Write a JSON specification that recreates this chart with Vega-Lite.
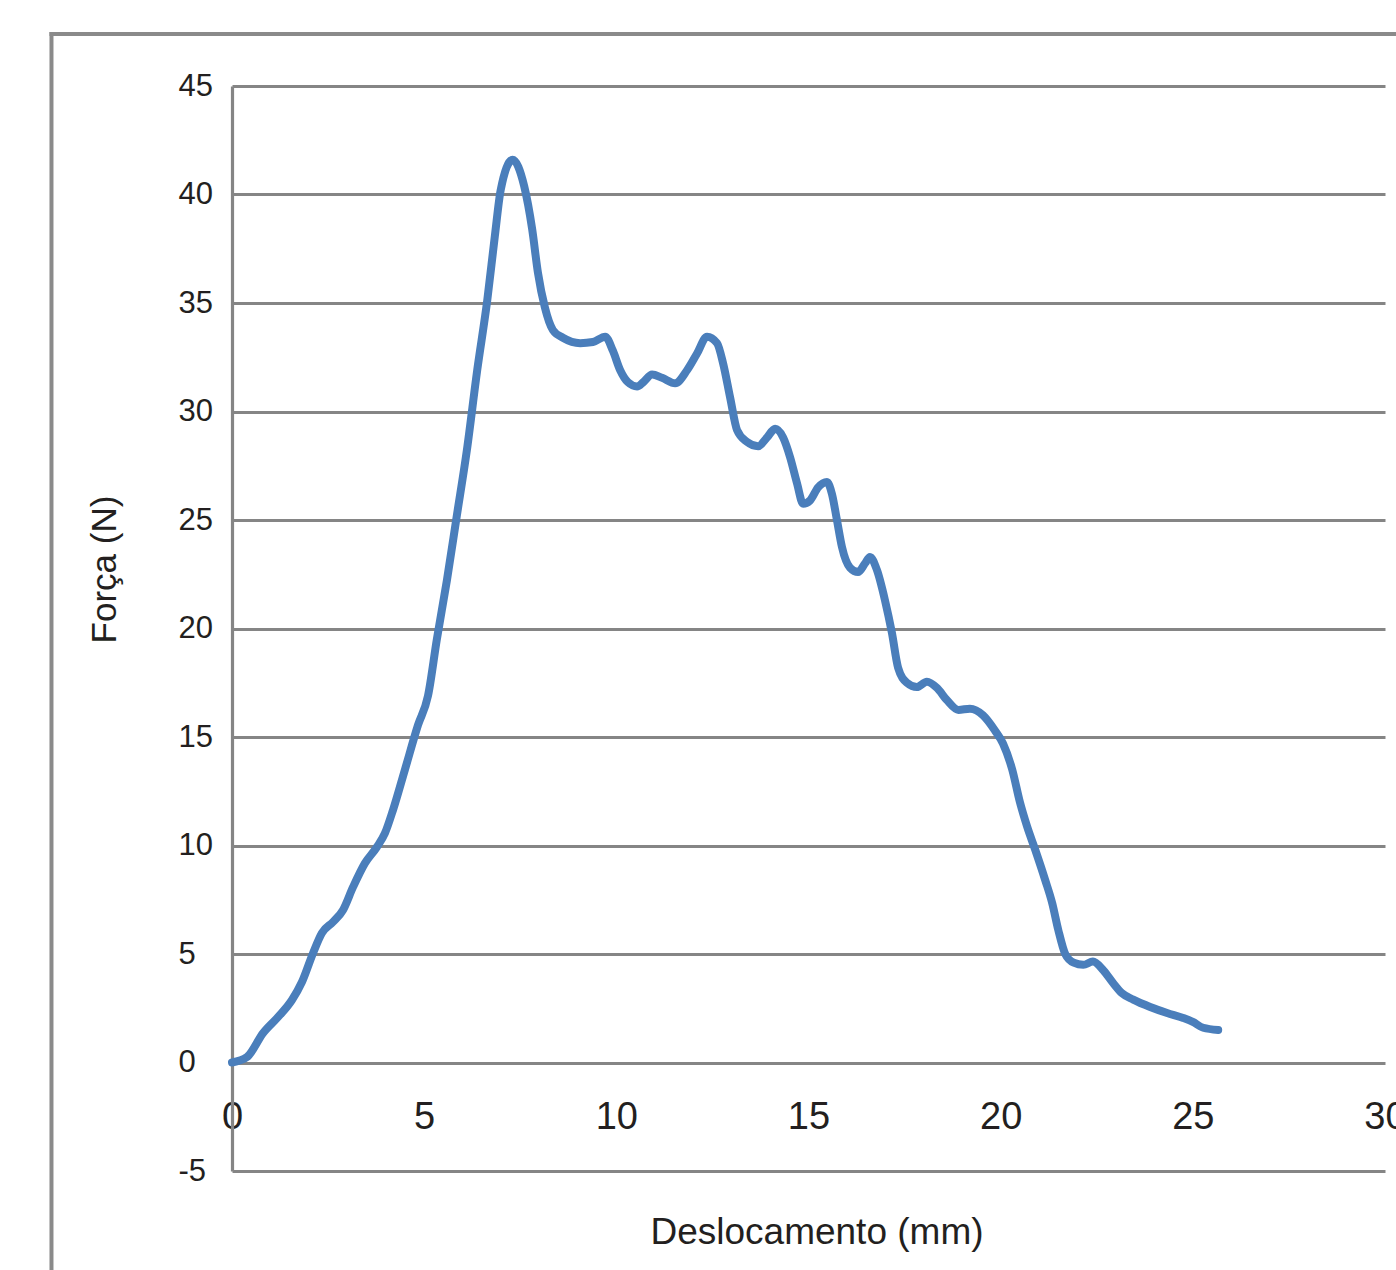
{
  "$schema": "https://vega.github.io/schema/vega-lite/v6.json",
  "width": 1153,
  "height": 1085,
  "autosize": "none",
  "padding": {"left": 232, "top": 86, "right": 11, "bottom": 99},
  "background": "white",
  "config": {"view": {"stroke": null}, "font": "Liberation Sans"},
  "layer": [
    {
      "data": {"values": [
        {"x": 0, "y": 0}, {"x": 0.39, "y": 0.25}, {"x": 0.81, "y": 1.36}, {"x": 1.2, "y": 2.1},
        {"x": 1.56, "y": 2.88}, {"x": 1.82, "y": 3.71}, {"x": 2.11, "y": 5.05}, {"x": 2.34, "y": 5.97},
        {"x": 2.63, "y": 6.48}, {"x": 2.89, "y": 7.03}, {"x": 3.15, "y": 8.09}, {"x": 3.46, "y": 9.19},
        {"x": 3.77, "y": 9.93}, {"x": 3.98, "y": 10.57}, {"x": 4.19, "y": 11.64}, {"x": 4.5, "y": 13.5},
        {"x": 4.84, "y": 15.55}, {"x": 5.1, "y": 16.9}, {"x": 5.33, "y": 19.5}, {"x": 5.59, "y": 22.2},
        {"x": 5.85, "y": 25.2}, {"x": 6.11, "y": 28.2}, {"x": 6.38, "y": 31.9}, {"x": 6.64, "y": 35.1},
        {"x": 6.84, "y": 38.1}, {"x": 6.99, "y": 40.2}, {"x": 7.3, "y": 41.6}, {"x": 7.6, "y": 40.4},
        {"x": 7.81, "y": 38.4}, {"x": 7.96, "y": 36.4}, {"x": 8.14, "y": 34.8}, {"x": 8.35, "y": 33.75},
        {"x": 8.61, "y": 33.4}, {"x": 9.06, "y": 33.15}, {"x": 9.39, "y": 33.2}, {"x": 9.71, "y": 33.45},
        {"x": 9.91, "y": 32.8}, {"x": 10.1, "y": 31.9}, {"x": 10.3, "y": 31.35}, {"x": 10.54, "y": 31.15},
        {"x": 10.7, "y": 31.35}, {"x": 10.93, "y": 31.7}, {"x": 11.19, "y": 31.55}, {"x": 11.53, "y": 31.3},
        {"x": 11.84, "y": 31.9}, {"x": 12.1, "y": 32.67}, {"x": 12.36, "y": 33.45}, {"x": 12.62, "y": 33.15},
        {"x": 12.78, "y": 32.2}, {"x": 12.96, "y": 30.65}, {"x": 13.14, "y": 29.15}, {"x": 13.4, "y": 28.6},
        {"x": 13.69, "y": 28.4}, {"x": 13.92, "y": 28.8}, {"x": 14.13, "y": 29.2}, {"x": 14.34, "y": 28.8},
        {"x": 14.52, "y": 27.9}, {"x": 14.7, "y": 26.7}, {"x": 14.86, "y": 25.75}, {"x": 15.04, "y": 25.9},
        {"x": 15.25, "y": 26.5}, {"x": 15.48, "y": 26.75}, {"x": 15.61, "y": 26.2}, {"x": 15.74, "y": 25.0},
        {"x": 15.87, "y": 23.76}, {"x": 16.08, "y": 22.8}, {"x": 16.29, "y": 22.6}, {"x": 16.47, "y": 23.0},
        {"x": 16.6, "y": 23.3}, {"x": 16.78, "y": 22.7}, {"x": 16.99, "y": 21.3}, {"x": 17.17, "y": 19.8},
        {"x": 17.33, "y": 18.2}, {"x": 17.56, "y": 17.5}, {"x": 17.82, "y": 17.3}, {"x": 18.08, "y": 17.55},
        {"x": 18.35, "y": 17.25}, {"x": 18.6, "y": 16.7}, {"x": 18.9, "y": 16.25}, {"x": 19.2, "y": 16.3},
        {"x": 19.54, "y": 16.0}, {"x": 19.85, "y": 15.3}, {"x": 20.06, "y": 14.7}, {"x": 20.3, "y": 13.5},
        {"x": 20.5, "y": 12.0}, {"x": 20.69, "y": 10.86}, {"x": 20.9, "y": 9.8}, {"x": 21.16, "y": 8.4},
        {"x": 21.34, "y": 7.35}, {"x": 21.5, "y": 6.1}, {"x": 21.68, "y": 5.0}, {"x": 21.9, "y": 4.6},
        {"x": 22.15, "y": 4.5}, {"x": 22.4, "y": 4.65}, {"x": 22.67, "y": 4.25}, {"x": 22.93, "y": 3.65},
        {"x": 23.15, "y": 3.2}, {"x": 23.45, "y": 2.9}, {"x": 23.89, "y": 2.56}, {"x": 24.33, "y": 2.28},
        {"x": 24.75, "y": 2.05}, {"x": 25.0, "y": 1.87}, {"x": 25.27, "y": 1.6}, {"x": 25.66, "y": 1.5}
      ]},
      "mark": {"type": "line", "color": "#4a7ebb", "strokeWidth": 8, "interpolate": "monotone", "strokeCap": "round", "strokeJoin": "round"},
      "encoding": {
        "x": {
          "field": "x", "type": "quantitative",
          "scale": {"domain": [0, 30], "nice": false, "zero": false},
          "axis": {
            "values": [0, 5, 10, 15, 20, 25, 30],
            "grid": false, "domain": false, "ticks": false, "tickSize": 0,
            "offset": -108.5,
            "labelFontSize": 38, "labelPadding": 36, "labelColor": "#231f20", "labelFont": "Liberation Sans",
            "labelFlush": false, "labelOverlap": false,
            "title": "Deslocamento (mm)", "titleFontSize": 37, "titleFontWeight": "normal", "titleColor": "#231f20",
            "titleFont": "Liberation Sans",
            "titleX": 584.5, "titleY": 180.5, "titleBaseline": "alphabetic", "titleAlign": "center"
          }
        },
        "y": {
          "field": "y", "type": "quantitative",
          "scale": {"domain": [-5, 45], "nice": false, "zero": false},
          "axis": {
            "values": [-5, 0, 5, 10, 15, 20, 25, 30, 35, 40, 45],
            "labelExpr": "'' + datum.value",
            "grid": true, "gridColor": "#858585", "gridWidth": 3.2, "gridOpacity": 1,
            "domain": true, "domainColor": "#858585", "domainWidth": 3.2,
            "ticks": false, "tickSize": 0,
            "labelAlign": "left", "labelBaseline": "middle", "labelPadding": 54,
            "labelFontSize": 31, "labelColor": "#231f20", "labelFont": "Liberation Sans", "labelFlush": false,
            "title": "Força (N)", "titleFontSize": 35, "titleFontWeight": "normal", "titleColor": "#231f20",
            "titleFont": "Liberation Sans",
            "titleX": -117, "titleY": 483, "titleAngle": 270, "titleAlign": "center", "titleBaseline": "alphabetic"
          }
        }
      }
    },
    {
      "data": {"values": [{}]},
      "mark": {"type": "rule", "color": "#8a8a8a", "strokeWidth": 4, "strokeCap": "square"},
      "encoding": {
        "x": {"datum": -4.697, "type": "quantitative", "scale": {"domain": [0, 30], "nice": false, "zero": false}},
        "y": {"datum": 47.4, "type": "quantitative", "scale": {"domain": [-5, 45], "nice": false, "zero": false}},
        "y2": {"datum": -10}
      }
    },
    {
      "data": {"values": [{}]},
      "mark": {"type": "rule", "color": "#8a8a8a", "strokeWidth": 4, "strokeCap": "square"},
      "encoding": {
        "x": {"datum": -4.697, "type": "quantitative", "scale": {"domain": [0, 30], "nice": false, "zero": false}},
        "x2": {"datum": 31},
        "y": {"datum": 47.4, "type": "quantitative", "scale": {"domain": [-5, 45], "nice": false, "zero": false}}
      }
    }
  ]
}
